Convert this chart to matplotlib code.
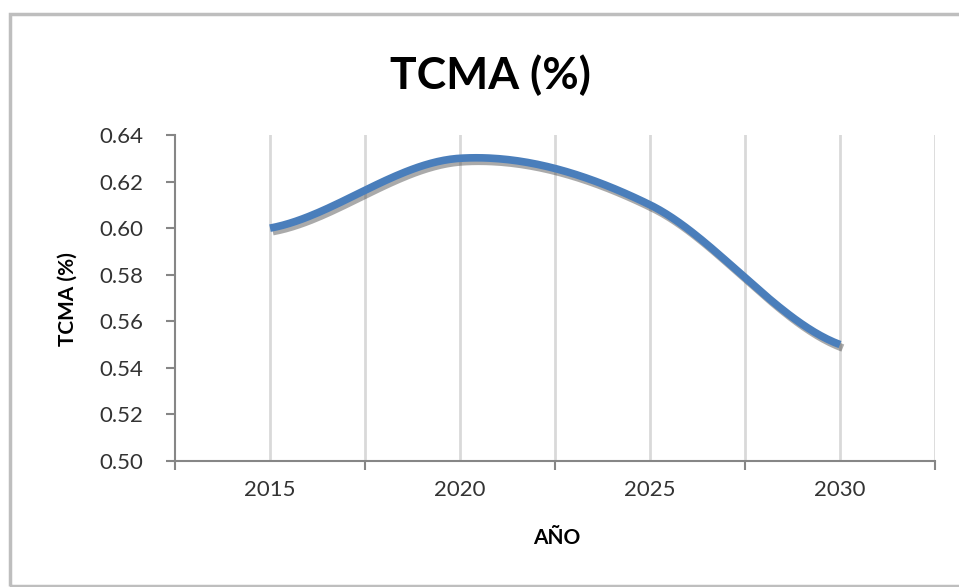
import numpy as np
import matplotlib
matplotlib.use("Agg")
import matplotlib.pyplot as plt
import matplotlib.patheffects as pe
from matplotlib.patches import Rectangle

years = ["2015", "2020", "2025", "2030"]
tcma = [0.60, 0.63, 0.61, 0.55]
y_ticks = [0.50, 0.52, 0.54, 0.56, 0.58, 0.60, 0.62, 0.64]

plt.rcParams['font.family'] = ['Lato', 'DejaVu Sans']

# category positions (Excel style: labels between tick marks)
xpos = np.arange(len(years)) + 0.5


def smooth(xs, ys, n=60):
    # Catmull-Rom curve through the points, like Excel's "smoothed line"
    px = np.concatenate([[2 * xs[0] - xs[1]], xs, [2 * xs[-1] - xs[-2]]])
    py = np.concatenate([[ys[0]], ys, [ys[-1]]])
    outx, outy = [], []
    t = np.linspace(0, 1, n)
    for i in range(1, len(px) - 2):
        m0x = (px[i + 1] - px[i - 1]) / 2
        m1x = (px[i + 2] - px[i]) / 2
        m0y = (py[i + 1] - py[i - 1]) / 2
        m1y = (py[i + 2] - py[i]) / 2
        h00 = 2 * t**3 - 3 * t**2 + 1
        h10 = t**3 - 2 * t**2 + t
        h01 = -2 * t**3 + 3 * t**2
        h11 = t**3 - t**2
        outx.extend(h00 * px[i] + h10 * m0x + h01 * px[i + 1] + h11 * m1x)
        outy.extend(h00 * py[i] + h10 * m0y + h01 * py[i + 1] + h11 * m1y)
    return np.array(outx), np.array(outy)


fig = plt.figure(figsize=(9.59, 5.87), dpi=100)
ax = fig.add_axes([175 / 959, 1 - 461 / 587, 760 / 959, 326 / 587])

# outer chart frame (open on the right, like the cropped original)
fig.patches.append(Rectangle((10 / 959, 1.5 / 587), 2.0, 572 / 587, transform=fig.transFigure,
                             fill=False, edgecolor='#BEBEBE', linewidth=2.5))

sx, sy = smooth(xpos, np.array(tcma))
ax.plot(sx, sy, color='#4A7EBB', linewidth=5.5, solid_capstyle='butt', zorder=3,
        path_effects=[pe.SimpleLineShadow(offset=(2, -2.5), shadow_color='#444444', alpha=0.45),
                      pe.Normal()])

ax.set_xlim(0, len(years))
ax.set_ylim(0.50, 0.64)
ax.set_xticks(np.arange(len(years) + 1))
ax.set_xticklabels([])
ax.set_xticks(xpos, minor=True)
ax.set_xticklabels(years, minor=True)
ax.set_yticks(y_ticks)
ax.set_yticklabels([f"{v:.2f}" for v in y_ticks])

for g in np.arange(0.5, len(years) + 0.01, 0.5):
    ax.axvline(g, color='#D9D9D9', linewidth=2, zorder=1)

for s in ['top', 'right']:
    ax.spines[s].set_visible(False)
for s in ['left', 'bottom']:
    ax.spines[s].set_color('#868686')
    ax.spines[s].set_linewidth(1.5)

ax.tick_params(axis='both', which='major', color='#868686', width=1.5, length=6.5,
               labelsize=16, labelcolor='#333333')
ax.tick_params(axis='x', which='minor', length=0, labelsize=16, labelcolor='#333333', pad=14)
ax.tick_params(axis='y', pad=16)

fig.text(490 / 959, 1 - 75 / 587, "TCMA (%)", ha='center', va='center',
         fontsize=32, fontweight='bold', color='black')
fig.text(68 / 959, 1 - 299 / 587, "TCMA (%)", ha='center', va='center', rotation=90,
         fontsize=15, fontweight='bold', color='black')
fig.text(557 / 959, 1 - 538 / 587, "AÑO", ha='center', va='center',
         fontsize=15, fontweight='bold', color='black')

fig.savefig("out.png", dpi=100)
